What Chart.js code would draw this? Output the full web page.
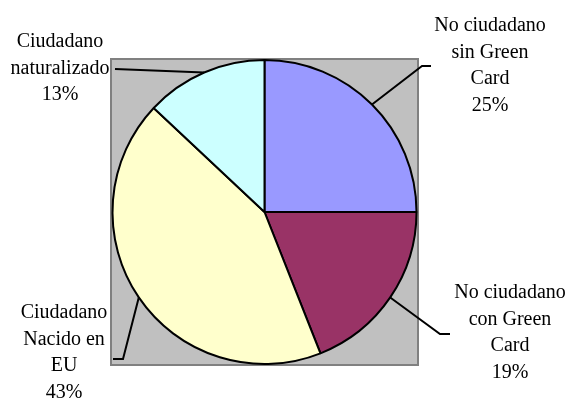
<!DOCTYPE html>
<html>
<head>
<meta charset="utf-8">
<script src="https://cdn.jsdelivr.net/npm/chart.js@4"></script>
<style>
  html, body { margin: 0; padding: 0; background: #fff; }
  #wrap { width: 572px; height: 402px; }
</style>
</head>
<body>
<div id="wrap"><canvas id="mycanvas" width="572" height="402"></canvas></div>
<script>
// data
var categories = [
  ["No ciudadano", "sin Green", "Card"],
  ["No ciudadano", "con Green", "Card"],
  ["Ciudadano", "Nacido en", "EU"],
  ["Ciudadano", "naturalizado"]
];
var percents = [25, 19, 43, 13];
var sliceColors = ["#9999FF", "#993366", "#FFFFCC", "#CCFFFF"];

// where each label sits and how its leader bends (page pixels)
var labelPlace = [
  { tx: 490, ty: 26, elbow: [422, 66], end: [431, 66] },
  { tx: 510, ty: 293, elbow: [440, 334], end: [450, 334] },
  { tx: 64, ty: 313, elbow: [123, 359], end: [113, 359] },
  { tx: 60, ty: 42, elbow: [115, 69], end: [115, 69] }
];

var plotBox = {
  id: 'plotBox',
  beforeDatasetsDraw: function(chart) {
    var a = chart.chartArea, c = chart.ctx;
    c.save();
    c.fillStyle = "#C0C0C0";
    c.fillRect(a.left, a.top, a.right - a.left, a.bottom - a.top);
    c.strokeStyle = "#808080";
    c.lineWidth = 2;
    c.strokeRect(a.left, a.top, a.right - a.left, a.bottom - a.top);
    c.restore();
  }
};

var outsideLabels = {
  id: 'outsideLabels',
  afterDatasetsDraw: function(chart) {
    var c = chart.ctx;
    var arcs = chart.getDatasetMeta(0).data;
    c.save();
    for (var i = 0; i < arcs.length; i++) {
      var arc = arcs[i];
      var mid = (arc.startAngle + arc.endAngle) / 2;
      var px = arc.x + Math.cos(mid) * arc.outerRadius;
      var py = arc.y + Math.sin(mid) * arc.outerRadius;
      var p = labelPlace[i];
      c.strokeStyle = "#000";
      c.lineWidth = 2;
      c.beginPath();
      c.moveTo(px, py);
      c.lineTo(p.elbow[0], p.elbow[1]);
      c.lineTo(p.end[0], p.end[1]);
      c.stroke();

      var lines = categories[i].concat([percents[i] + "%"]);
      c.fillStyle = "#000";
      c.font = "20px 'Liberation Serif', serif";
      c.textAlign = "center";
      c.textBaseline = "middle";
      for (var j = 0; j < lines.length; j++) {
        c.fillText(lines[j], p.tx, p.ty + j * 26.5);
      }
    }
    c.restore();
  }
};

var ctx = document.getElementById("mycanvas");
var pieChart = new Chart(ctx, {
  type: 'pie',
  data: {
    labels: categories.map(function(l) { return l.join(" "); }),
    datasets: [{
      data: percents,
      backgroundColor: sliceColors,
      borderColor: "#000",
      borderWidth: 2
    }]
  },
  options: {
    responsive: false,
    animation: false,
    layout: { padding: { left: 111, right: 154, top: 59, bottom: 37 } },
    plugins: {
      legend: { display: false },
      tooltip: { enabled: false }
    }
  },
  plugins: [plotBox, outsideLabels]
});
</script>
</body>
</html>
